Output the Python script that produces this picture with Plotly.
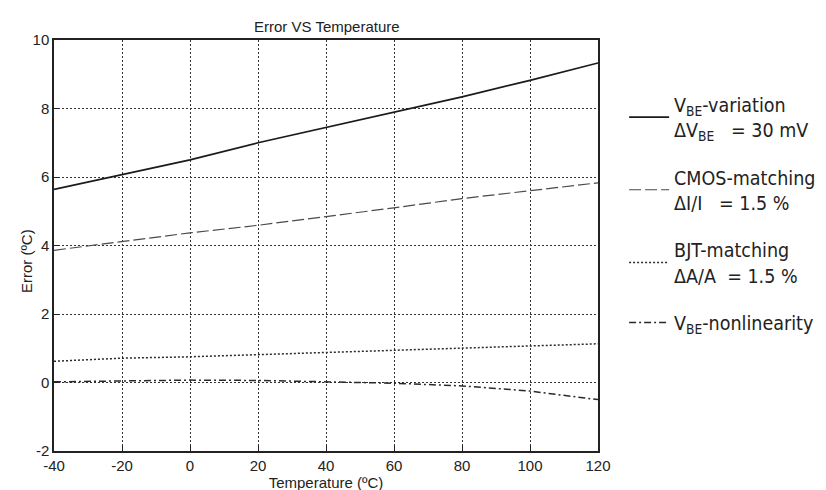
import plotly.graph_objects as go

temperature = [-40, -20, 0, 20, 40, 60, 80, 100, 120]
vbe_variation = [5.64, 6.06, 6.50, 7.00, 7.44, 7.88, 8.34, 8.82, 9.33]
cmos_matching = [3.86, 4.12, 4.37, 4.59, 4.84, 5.10, 5.37, 5.59, 5.83]
bjt_matching = [0.62, 0.71, 0.75, 0.81, 0.88, 0.94, 1.00, 1.05, 1.13]
vbe_nonlinearity = [0.02, 0.05, 0.07, 0.06, 0.03, -0.02, -0.10, -0.25, -0.50]

x_ticks = [-40, -20, 0, 20, 40, 60, 80, 100, 120]
x_tick_labels = ["-40", "-20", "0", "20", "40", "60", "80", "100", "120"]
y_ticks = [-2, 0, 2, 4, 6, 8, 10]
y_tick_labels = ["-2", "0", "2", "4", "6", "8", "10"]

names = [
    "V<sub>BE</sub>-variation<br>ΔV<sub>BE</sub>\u00a0\u00a0\u00a0= 30 mV",
    "CMOS-matching<br>ΔI/I\u00a0\u00a0\u00a0= 1.5 %",
    "BJT-matching<br>ΔA/A\u00a0\u00a0= 1.5 %",
    "V<sub>BE</sub>-nonlinearity",
]
series = [vbe_variation, cmos_matching, bjt_matching, vbe_nonlinearity]
dashes = ["solid", "12px,4px", "2px,2px", "7px,3px,2px,3px"]
colors = ["#1a1a1a", "#4a4a4a", "#2a2a2a", "#2a2a2a"]
widths = [1.7, 1.2, 1.5, 1.5]

SANS = "Liberation Sans, Arial, sans-serif"
LEGFONT = "DejaVu Sans Condensed, Tahoma, DejaVu Sans, sans-serif"

fig = go.Figure()
for i, (nm, ys) in enumerate(zip(names, series)):
    fig.add_trace(go.Scatter(
        x=temperature, y=ys, mode="lines", name=nm, legendgroup=f"g{i}",
        line=dict(color=colors[i], width=widths[i], dash=dashes[i]),
    ))

axis_common = dict(
    showline=True, linecolor="#222", linewidth=1.5, mirror=True,
    showgrid=True, gridcolor="#333", gridwidth=1, griddash="2px,2px",
    ticks="inside", ticklen=5, tickcolor="#222",
    zeroline=False, tickfont=dict(family=SANS, size=15, color="#222"),
)
fig.update_xaxes(range=[-40, 120], tickvals=x_ticks, ticktext=x_tick_labels,
                 title=dict(text="Temperature (ºC)", font=dict(family=SANS, size=15, color="#222"), standoff=5),
                 **axis_common)
fig.update_yaxes(range=[-2, 10], tickvals=y_ticks, ticktext=y_tick_labels, **axis_common)

fig.add_annotation(text="Error (ºC)", textangle=-90, xref="paper", yref="paper",
                   x=-0.0515, y=0.462, xanchor="center", yanchor="middle", showarrow=False,
                   font=dict(family=SANS, size=15, color="#222"))

fig.update_layout(
    width=826, height=490,
    margin=dict(l=46, r=236, t=32, b=47, autoexpand=False),
    paper_bgcolor="white", plot_bgcolor="white",
    title=dict(text="Error VS Temperature", x=0.386, xanchor="center", y=0.961, yanchor="middle",
               font=dict(family=SANS, size=15, color="#222")),
    legend=dict(x=1.048, xanchor="left", y=0.89, yanchor="top",
                font=dict(family=LEGFONT, size=19.5, color="#222"),
                tracegroupgap=19, itemwidth=40, bgcolor="rgba(0,0,0,0)", valign="middle"),
)

fig.write_html("out.html")
